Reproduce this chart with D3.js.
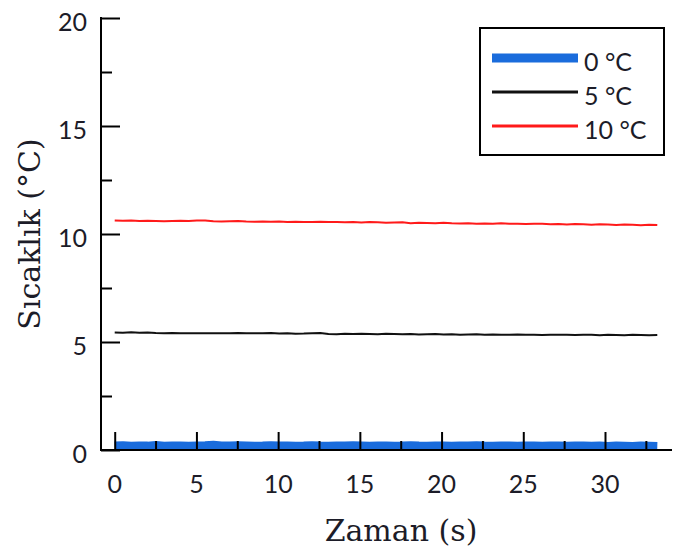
<!DOCTYPE html>
<html><head><meta charset="utf-8">
<script src="https://cdn.jsdelivr.net/npm/d3@7"></script>
<style>body{margin:0;background:#fff}svg{display:block}</style>
</head><body>
<script>
const seriesNames = ["0 °C", "5 °C", "10 °C"];
const seriesColors = ["#1a6cdc", "#111111", "#ff1a1a"];
const xTicks = [0, 5, 10, 15, 20, 25, 30];
const yTicks = [0, 5, 10, 15, 20];
const duration = 33.2;
const nSamples = 67;
const values0 = [0.18,0.20,0.17,0.19,0.18,0.21,0.17,0.19,0.18,0.17,
0.19,0.20,0.22,0.19,0.18,0.20,0.19,0.17,0.18,0.20,
0.18,0.19,0.17,0.18,0.20,0.18,0.17,0.19,0.18,0.20,
0.19,0.17,0.18,0.19,0.17,0.18,0.20,0.18,0.17,0.19,
0.18,0.17,0.19,0.18,0.20,0.18,0.17,0.19,0.18,0.17,
0.19,0.18,0.17,0.18,0.19,0.17,0.18,0.19,0.17,0.18,
0.16,0.18,0.17,0.16,0.18,0.17,0.16];
const values5 = [5.44,5.43,5.45,5.43,5.44,5.42,5.41,5.42,5.41,5.40,
5.41,5.40,5.41,5.40,5.41,5.42,5.40,5.41,5.40,5.42,
5.39,5.40,5.38,5.39,5.41,5.42,5.37,5.36,5.38,5.37,
5.38,5.37,5.36,5.38,5.37,5.36,5.37,5.35,5.36,5.37,
5.35,5.36,5.34,5.35,5.36,5.34,5.35,5.33,5.34,5.35,
5.33,5.34,5.32,5.33,5.34,5.33,5.32,5.34,5.33,5.31,
5.33,5.32,5.31,5.33,5.32,5.31,5.32];
const values10 = [10.62,10.61,10.62,10.60,10.61,10.60,10.59,10.60,10.61,10.60,
10.62,10.63,10.59,10.58,10.59,10.60,10.58,10.57,10.58,10.57,
10.58,10.56,10.57,10.55,10.56,10.57,10.55,10.56,10.54,10.55,
10.53,10.55,10.54,10.52,10.53,10.54,10.50,10.52,10.51,10.50,
10.52,10.50,10.49,10.50,10.48,10.49,10.47,10.50,10.48,10.47,
10.46,10.48,10.47,10.45,10.46,10.44,10.46,10.45,10.43,10.45,
10.44,10.42,10.44,10.43,10.41,10.43,10.42];

const W = 673, H = 551;
const svg = d3.select("body").append("svg").attr("width", W).attr("height", H);
const x = d3.scaleLinear().domain([-0.9, 34.1]).range([100, 672]);
const y = d3.scaleLinear().domain([0, 20]).range([450, 18]);
const times = d3.range(nSamples).map(i => i * duration / (nSamples - 1));
const allSeries = [values0, values5, values10];
const widths = [9, 2, 2];

const line = d3.line().x((d, i) => x(times[i])).y(d => y(d));
allSeries.forEach((vals, k) => {
  svg.append("path").datum(vals).attr("d", line)
    .attr("fill", "none").attr("stroke", seriesColors[k])
    .attr("stroke-width", widths[k]).attr("stroke-linejoin", "round");
});

const tickFont = "Lato, 'Open Sans', sans-serif";
const textColor = "#1c1c28";

// x axis
const xMinor = d3.range(2.5, 34, 5);
const gx = svg.append("g").attr("transform", "translate(0,450)");
gx.call(d3.axisTop(x).tickValues(xTicks).tickSize(18).tickFormat(""));
gx.append("g").call(d3.axisTop(x).tickValues(xMinor).tickSize(9).tickFormat(""));
gx.selectAll(".domain").remove();
gx.append("line").attr("x1", 100).attr("x2", 672).attr("y1", 0).attr("y2", 0)
  .attr("stroke", "#000").attr("stroke-width", 2);
gx.selectAll(".tick line").attr("stroke", "#000").attr("stroke-width", 2);
svg.append("g").selectAll("text").data(xTicks).join("text")
  .attr("x", d => x(d)).attr("y", 484).attr("dy", "0.35em")
  .attr("text-anchor", "middle").attr("font-family", tickFont).attr("font-size", 25)
  .attr("fill", textColor).text(d => d);

// y axis
const yMinor = d3.range(2.5, 20, 5);
const gy = svg.append("g").attr("transform", "translate(101,0)");
gy.call(d3.axisRight(y).tickValues(yTicks).tickSize(19).tickFormat(""));
gy.append("g").call(d3.axisRight(y).tickValues(yMinor).tickSize(11).tickFormat(""));
gy.selectAll(".domain").remove();
gy.append("line").attr("x1", 0).attr("x2", 0).attr("y1", 17).attr("y2", 451)
  .attr("stroke", "#000").attr("stroke-width", 2);
gy.selectAll(".tick line").attr("stroke", "#000").attr("stroke-width", 2);
svg.append("g").selectAll("text").data(yTicks).join("text")
  .attr("x", 87).attr("y", d => y(d) + 4).attr("dy", "0.35em")
  .attr("text-anchor", "end").attr("font-family", tickFont).attr("font-size", 25)
  .attr("fill", textColor).text(d => d);

// titles
const titleFont = "'DejaVu Serif', serif";
svg.append("text").attr("x", 401).attr("y", 530).attr("dy", "0.35em")
  .attr("text-anchor", "middle").attr("font-family", titleFont).attr("font-size", 30)
  .attr("fill", textColor).text("Zaman (s)");
svg.append("text").attr("transform", "translate(29,234) rotate(-90)").attr("dy", "0.35em")
  .attr("text-anchor", "middle").attr("font-family", titleFont).attr("font-size", 30)
  .attr("fill", textColor).text("Sıcaklık (°C)");

// legend
const lg = svg.append("g");
lg.append("rect").attr("x", 480).attr("y", 28).attr("width", 184).attr("height", 127)
  .attr("fill", "#fff").attr("stroke", "#000").attr("stroke-width", 2);
const legY = d3.scalePoint().domain(seriesNames).range([58, 126]);
seriesNames.forEach((n, k) => {
  lg.append("line").attr("x1", 492).attr("x2", 578).attr("y1", legY(n)).attr("y2", legY(n))
    .attr("stroke", seriesColors[k]).attr("stroke-width", k === 0 ? 9 : 3);
  lg.append("text").attr("x", 584).attr("y", legY(n) + 4).attr("dy", "0.35em")
    .attr("font-family", tickFont).attr("font-size", 25).attr("fill", textColor).text(n);
});
</script>
</body></html>
